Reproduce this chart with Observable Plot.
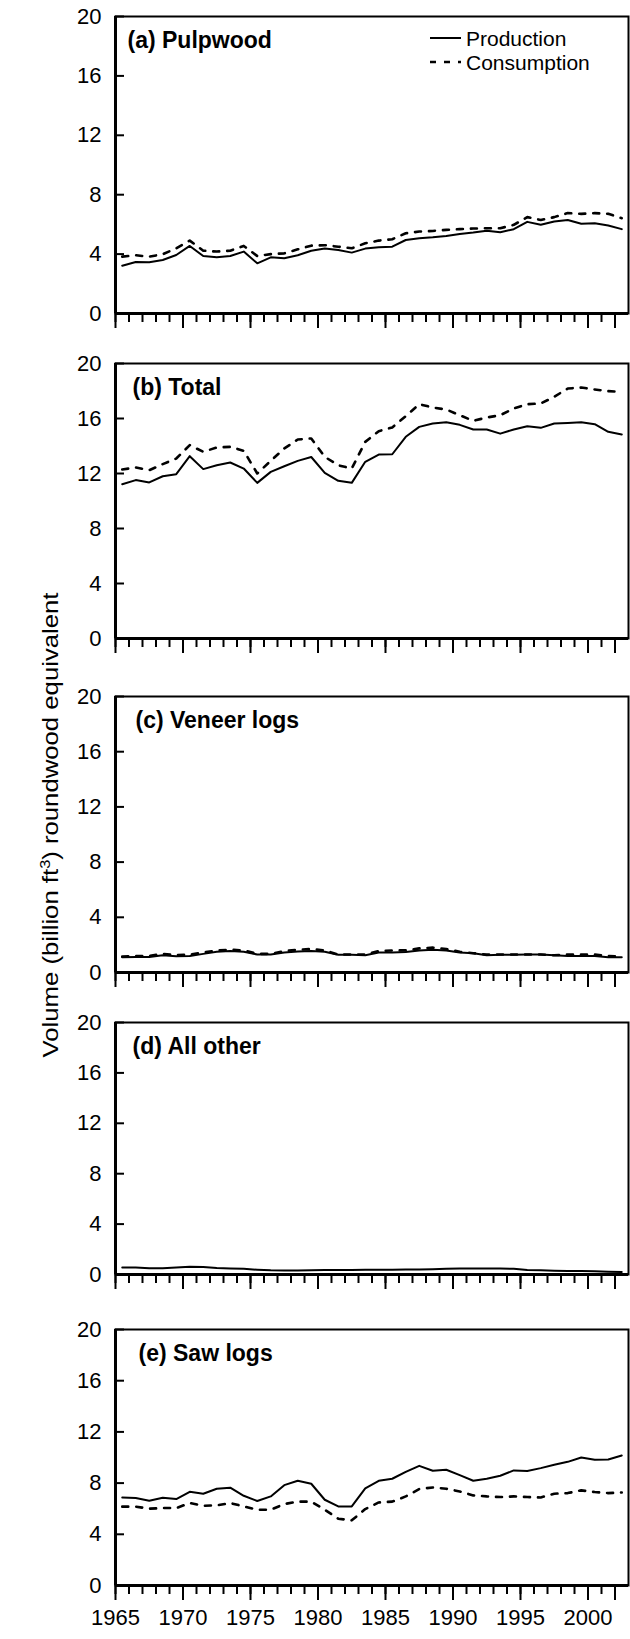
<!DOCTYPE html>
<html><head><meta charset="utf-8">
<script src="https://cdn.jsdelivr.net/npm/d3@7"></script>
<script src="https://cdn.jsdelivr.net/npm/@observablehq/plot@0.6"></script>
<style>
body{margin:0;background:#fff;}
#wrap{position:relative;width:630px;height:1639px;overflow:hidden;background:#fff;font-family:"Liberation Sans",Arial,sans-serif;}
#wrap svg{position:absolute;left:0;overflow:visible;}
</style></head><body><div id="wrap"></div>
<script>
// ---- data (billion ft3 roundwood equivalent), 1965-2002 ----
const years = d3.range(1965, 2003);
const yTicks = [0, 4, 8, 12, 16, 20];
const majorTicks = [1965, 1970, 1975, 1980, 1985, 1990, 1995, 2000, 2002];
const labelYears = [1965, 1970, 1975, 1980, 1985, 1990, 1995, 2000];

const pulpProd = [3.22,3.47,3.45,3.6,3.94,4.55,3.87,3.78,3.87,4.17,3.38,3.78,3.72,3.92,4.23,4.37,4.28,4.1,4.37,4.46,4.5,4.95,5.07,5.13,5.22,5.36,5.45,5.58,5.47,5.68,6.17,5.97,6.19,6.3,6.04,6.08,5.92,5.68];
const pulpCons = [3.83,3.92,3.83,3.99,4.39,4.91,4.23,4.17,4.23,4.55,3.87,4.0,4.05,4.32,4.57,4.6,4.5,4.39,4.73,4.91,5.0,5.4,5.52,5.56,5.63,5.68,5.72,5.74,5.74,5.97,6.49,6.3,6.49,6.76,6.71,6.76,6.71,6.42];

const totalProd = [11.22,11.52,11.35,11.8,11.95,13.26,12.32,12.6,12.8,12.36,11.32,12.12,12.53,12.92,13.2,12.05,11.47,11.32,12.85,13.38,13.4,14.67,15.39,15.64,15.73,15.54,15.2,15.2,14.9,15.2,15.44,15.32,15.64,15.68,15.73,15.59,15.03,14.84];
const totalCons = [12.29,12.44,12.24,12.68,13.09,14.06,13.58,13.89,13.94,13.65,12.0,12.92,13.82,14.47,14.55,13.21,12.6,12.36,14.3,15.08,15.35,16.17,17.04,16.8,16.65,16.24,15.83,16.07,16.24,16.73,17.04,17.09,17.58,18.18,18.25,18.11,17.99,17.94];

const veneerProd = [1.1,1.12,1.12,1.25,1.18,1.2,1.35,1.5,1.55,1.5,1.3,1.3,1.45,1.52,1.55,1.5,1.28,1.28,1.25,1.45,1.45,1.48,1.6,1.65,1.6,1.45,1.4,1.25,1.28,1.28,1.3,1.3,1.25,1.2,1.2,1.2,1.1,1.1];
const veneerCons = [1.15,1.2,1.2,1.35,1.25,1.3,1.45,1.6,1.65,1.6,1.35,1.35,1.55,1.65,1.7,1.6,1.3,1.3,1.3,1.55,1.6,1.6,1.75,1.8,1.7,1.5,1.4,1.3,1.3,1.3,1.3,1.3,1.25,1.3,1.3,1.3,1.2,1.15];

const otherProd = [0.55,0.55,0.5,0.5,0.55,0.62,0.6,0.52,0.48,0.45,0.38,0.33,0.32,0.32,0.33,0.35,0.35,0.36,0.37,0.38,0.38,0.4,0.4,0.42,0.45,0.48,0.48,0.48,0.48,0.45,0.35,0.33,0.3,0.28,0.27,0.25,0.22,0.2];

const sawProd = [6.88,6.83,6.62,6.86,6.75,7.32,7.17,7.56,7.64,7.01,6.6,6.96,7.84,8.18,7.95,6.7,6.18,6.18,7.58,8.18,8.34,8.88,9.35,8.96,9.04,8.62,8.18,8.34,8.57,8.99,8.94,9.17,9.43,9.66,10.0,9.82,9.84,10.16];
const sawCons = [6.16,6.16,6.0,6.05,6.05,6.44,6.23,6.26,6.44,6.18,5.92,5.92,6.36,6.55,6.55,5.92,5.22,5.09,5.97,6.49,6.55,6.96,7.53,7.66,7.56,7.35,7.04,6.96,6.91,6.96,6.91,6.88,7.17,7.22,7.43,7.3,7.22,7.27];

const titles = ["(a) Pulpwood", "(b) Total", "(c) Veneer logs", "(d) All other", "(e) Saw logs"];
const prodSeries = [pulpProd, totalProd, veneerProd, otherProd, sawProd];
const consSeries = [pulpCons, totalCons, veneerCons, null, sawCons];

// ---- layout ----
const FONT = '"Liberation Sans", Arial, sans-serif';
const layout = [
  {top: 16,   bottom: 313,  titleDx: 12},
  {top: 363,  bottom: 638,  titleDx: 17},
  {top: 696,  bottom: 972,  titleDx: 20},
  {top: 1022, bottom: 1274, titleDx: 17},
  {top: 1329, bottom: 1585, titleDx: 23}
];
const wrap = document.getElementById("wrap");
const rows = arr => years.map((y, i) => ({year: y, value: arr[i]}));

layout.forEach((L, k) => {
  const last = k === layout.length - 1;
  const mt = 14, mb = last ? 56 : 24;
  const h = L.bottom - L.top + mt + mb;
  const marks = [
    Plot.axisY({ticks: yTicks, tickSize: -9, tickPadding: 23, fontSize: 22, label: null, strokeWidth: 2}),
    Plot.axisX({ticks: years, tickSize: 9, tickFormat: () => "", label: null, strokeWidth: 2}),
    Plot.axisX({ticks: majorTicks, tickSize: 15, tickPadding: 9, fontSize: 22, label: null, strokeWidth: 2,
      tickFormat: last ? (d => labelYears.includes(d) ? String(d) : "") : () => ""}),
    Plot.frame({stroke: "black", strokeWidth: 2}),
    Plot.ruleX([1965], {stroke: "black", strokeWidth: 3}),
    Plot.ruleY([0], {stroke: "black", strokeWidth: 3})
  ];
  if (consSeries[k]) marks.push(Plot.line(rows(consSeries[k]), {x: d => d.year + 0.5, y: "value", stroke: "black", strokeWidth: 2.6, strokeDasharray: "6,8"}));
  marks.push(Plot.line(rows(prodSeries[k]), {x: d => d.year + 0.5, y: "value", stroke: "black", strokeWidth: 2}));
  marks.push(Plot.text([titles[k]], {frameAnchor: "top-left", dx: L.titleDx, dy: 24, text: d => d, fontWeight: "bold", fontSize: 23, textAnchor: "start", lineAnchor: "middle", fill: "black"}));
  const chart = Plot.plot({
    width: 630, height: h,
    marginLeft: 115, marginRight: 2, marginTop: mt, marginBottom: mb,
    x: {domain: [1965, 2003]},
    y: {domain: [0, 20]},
    style: {fontFamily: FONT, fontSize: "22px", color: "black", background: "transparent", overflow: "visible"},
    marks
  });
  chart.style.top = (L.top - mt) + "px";
  wrap.appendChild(chart);
});

// ---- legend (panel a) and y-axis title ----
const ov = d3.select(wrap).append("svg")
  .attr("width", 630).attr("height", 1639)
  .style("top", "0px").style("font-family", FONT);
const leg = ov.append("g");
const legendItems = [{label: "Production", dash: null}, {label: "Consumption", dash: "6,8"}];
legendItems.forEach((it, i) => {
  const y = 38 + i * 24;
  leg.append("line").attr("x1", 430).attr("x2", 461).attr("y1", y).attr("y2", y)
    .attr("stroke", "black").attr("stroke-width", it.dash ? 2.6 : 2)
    .attr("stroke-dasharray", it.dash);
  leg.append("text").attr("x", 466).attr("y", y).attr("dy", "0.36em")
    .attr("font-size", 21).attr("fill", "black").text(it.label);
});
const yl = ov.append("text")
  .attr("transform", "translate(58,825) rotate(-90)")
  .attr("text-anchor", "middle").attr("font-size", 22).attr("fill", "black")
  .attr("textLength", 465).attr("lengthAdjust", "spacingAndGlyphs");
yl.append("tspan").text("Volume (billion ft");
yl.append("tspan").attr("baseline-shift", "super").attr("font-size", 14).text("3");
yl.append("tspan").text(") roundwood equivalent");
</script></body></html>
